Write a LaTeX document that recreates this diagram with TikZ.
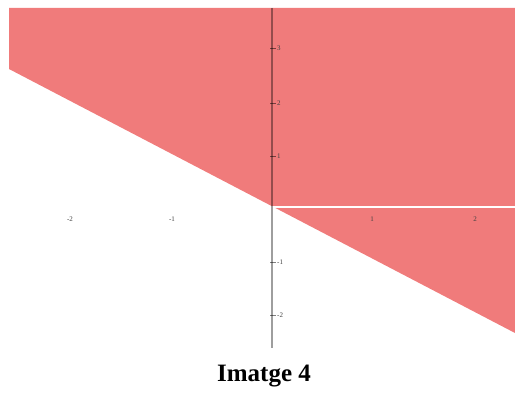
\documentclass[tikz,border=0pt]{standalone}
\usepackage{fontspec}
\setmainfont{Liberation Serif}
\definecolor{regionred}{RGB}{240,123,123}
\begin{document}
\begin{tikzpicture}[x=1pt,y=-1pt,
  ticklab/.style={font=\fontsize{7}{7}\selectfont, text=black!75, inner sep=0pt},
  axisline/.style={draw=black, draw opacity=0.38, line width=1.2pt},
  tickmark/.style={draw=black, draw opacity=0.5, line width=0.5pt}]
\useasboundingbox (0,0) rectangle (515,393);
% shaded half-plane
\fill[regionred] (9,8) -- (515,8) -- (515,333) -- (9,69) -- cycle;
% axes
\coordinate (O) at (272,207);
\coordinate (ytop) at (272,8);
\coordinate (ybot) at (272,348);
\coordinate (xright) at (515,207);
\draw[white, line width=1.1pt] (O) -- (xright);
\draw[axisline] (ytop) -- (ybot);
% y ticks and labels
\foreach \yy/\lab/\nm in {48/3/ya,103/2/yb,156/1/yc,262/-1/yd,315/-2/ye}{
  \draw[tickmark] (270,\yy) -- (276,\yy);
  \node[ticklab, anchor=west] (\nm) at (277,\yy) {\lab};
}
% x labels
\foreach \xx/\lab/\nm in {70/-2/xa,172/-1/xb,372/1/xc,475/2/xd}{
  \node[ticklab] (\nm) at (\xx,219) {\lab};
}
% caption
\node[font=\bfseries\fontsize{25}{25}\selectfont, inner sep=0pt] (cap) at (264,376) {Imatge 4};
\end{tikzpicture}
\end{document}
